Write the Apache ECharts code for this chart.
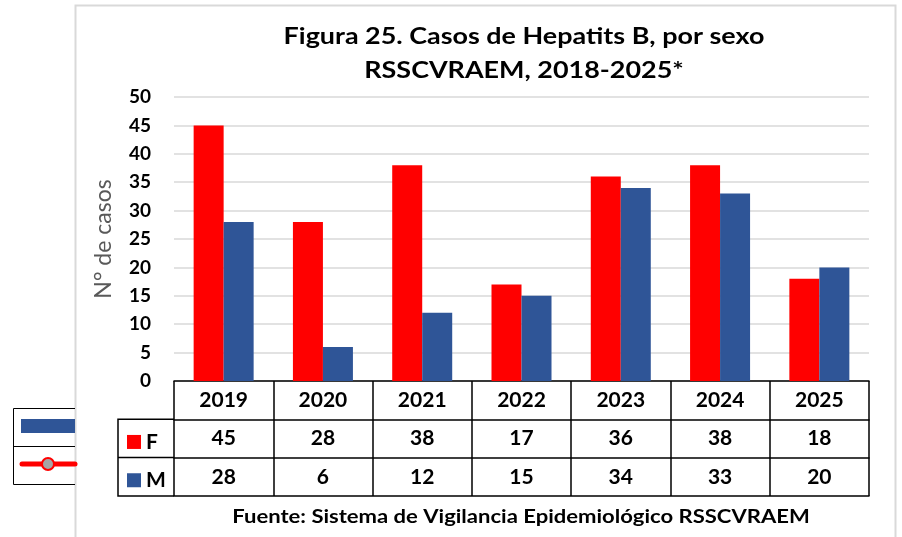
<!DOCTYPE html>
<html>
<head>
<meta charset="utf-8">
<script src="https://cdn.jsdelivr.net/npm/echarts@6/dist/echarts.min.js"></script>
<style>html,body{margin:0;padding:0;background:#fff}#c{width:902px;height:537px}</style>
</head>
<body>
<div id="c"></div>
<script>
var years = ['2019','2020','2021','2022','2023','2024','2025'];
var valuesF = [45, 28, 38, 17, 36, 38, 18];
var valuesM = [28, 6, 12, 15, 34, 33, 20];
var yTicks = { min: 0, max: 50, interval: 5 };
var titleLines = ['Figura 25. Casos de Hepatits B, por sexo', 'RSSCVRAEM, 2018-2025*'];
var sourceText = 'Fuente: Sistema de Vigilancia Epidemiológico RSSCVRAEM';

var FONT = 'Lato';
var RED = '#FF0000', BLUE = '#2F5597';
var chart = echarts.init(document.getElementById('c'), null, {renderer: 'canvas'});

var rowH = 38.3;
function tableAxis(offset, labels, extra) {
  return Object.assign({
    type: 'category', data: years, position: 'bottom', offset: offset,
    axisLine: {show: true, lineStyle: {color: '#000', width: 1.5}},
    axisTick: {show: false},
    axisLabel: {show: !!labels, interval: 0, margin: rowH / 2, verticalAlign: 'middle',
      fontFamily: FONT, fontWeight: 'bold', fontSize: 21, color: '#000',
      formatter: function (v, i) { return labels ? String(labels[i]) : ''; }},
    splitLine: {show: false}
  }, extra || {});
}
function rowLegend(name, top) {
  return {
    orient: 'vertical', left: 127, top: top, padding: 0, itemWidth: 14, itemHeight: 14,
    icon: 'rect', selectedMode: false,
    textStyle: {fontFamily: FONT, fontWeight: 'bold', fontSize: 21, lineHeight: 14, color: '#000'},
    data: [name]
  };
}

var option = {
  animation: false,
  backgroundColor: '#fff',
  grid: {left: 174, right: 33, top: 97, bottom: 156, containLabel: false},
  legend: [rowLegend('F', 381 + rowH * 1.5 - 7), rowLegend('M', 381 + rowH * 2.5 - 7)],
  xAxis: [
    tableAxis(0, years, {axisTick: {show: true, interval: 0, length: rowH * 3, lineStyle: {color: '#000', width: 1.5}}}),
    tableAxis(rowH, valuesF),
    tableAxis(rowH * 2, valuesM),
    tableAxis(rowH * 3, null)
  ],
  yAxis: {
    type: 'value', min: yTicks.min, max: yTicks.max, interval: yTicks.interval,
    name: 'N° de casos', nameLocation: 'middle', nameGap: 59,
    nameTextStyle: {fontFamily: FONT, fontSize: 23, color: '#595959'},
    axisLine: {show: false}, axisTick: {show: false},
    axisLabel: {fontFamily: FONT, fontWeight: 'bold', fontSize: 19, color: '#000', margin: 23},
    splitLine: {lineStyle: {color: '#D9D9D9', width: 1.5}}
  },
  series: [
    {name: 'F', type: 'bar', data: valuesF, barWidth: 30, barGap: '0%', itemStyle: {color: RED}, xAxisIndex: 0},
    {name: 'M', type: 'bar', data: valuesM, barWidth: 30, barGap: '0%', itemStyle: {color: BLUE}, xAxisIndex: 0}
  ],
  graphic: [
    // chart border
    {type: 'rect', shape: {x: 75.5, y: 5.5, width: 820, height: 560}, style: {fill: 'none', stroke: '#D9D9D9', lineWidth: 2}, silent: true},
    // title
    {type: 'text', x: 524, y: 37, scaleX: 1.17, style: {text: titleLines[0], font: 'bold 23px ' + FONT, fill: '#000', textAlign: 'center', textVerticalAlign: 'middle'}},
    {type: 'text', x: 524, y: 71, scaleX: 1.17, style: {text: titleLines[1], font: 'bold 23px ' + FONT, fill: '#000', textAlign: 'center', textVerticalAlign: 'middle'}},
    // source
    {type: 'text', x: 521, y: 517, scaleX: 1.16, style: {text: sourceText, font: 'bold 19px ' + FONT, fill: '#000', textAlign: 'center', textVerticalAlign: 'middle'}},
    // row label column borders
    {type: 'polyline', shape: {points: [[174, 381 + rowH], [118, 381 + rowH], [118, 381 + rowH * 3], [174, 381 + rowH * 3]]}, style: {fill: 'none', stroke: '#000', lineWidth: 1.5}},
    {type: 'line', shape: {x1: 118, y1: 381 + rowH * 2, x2: 174, y2: 381 + rowH * 2}, style: {stroke: '#000', lineWidth: 1.5}},
    // stray legend fragment at left
    {type: 'polyline', shape: {points: [[75, 408.5], [13.5, 408.5], [13.5, 484.5], [75, 484.5]]}, style: {fill: 'none', stroke: '#000', lineWidth: 1}},
    {type: 'line', shape: {x1: 13.5, y1: 446.5, x2: 75, y2: 446.5}, style: {stroke: '#000', lineWidth: 1}},
    {type: 'rect', shape: {x: 21, y: 419, width: 54, height: 14}, style: {fill: BLUE}},
    {type: 'line', shape: {x1: 22, y1: 464, x2: 75, y2: 464}, style: {stroke: RED, lineWidth: 5, lineCap: 'round'}},
    {type: 'circle', shape: {cx: 48, cy: 464, r: 6}, style: {fill: '#A6A6A6', stroke: RED, lineWidth: 2}}
  ]
};
chart.setOption(option);
</script>
</body>
</html>
